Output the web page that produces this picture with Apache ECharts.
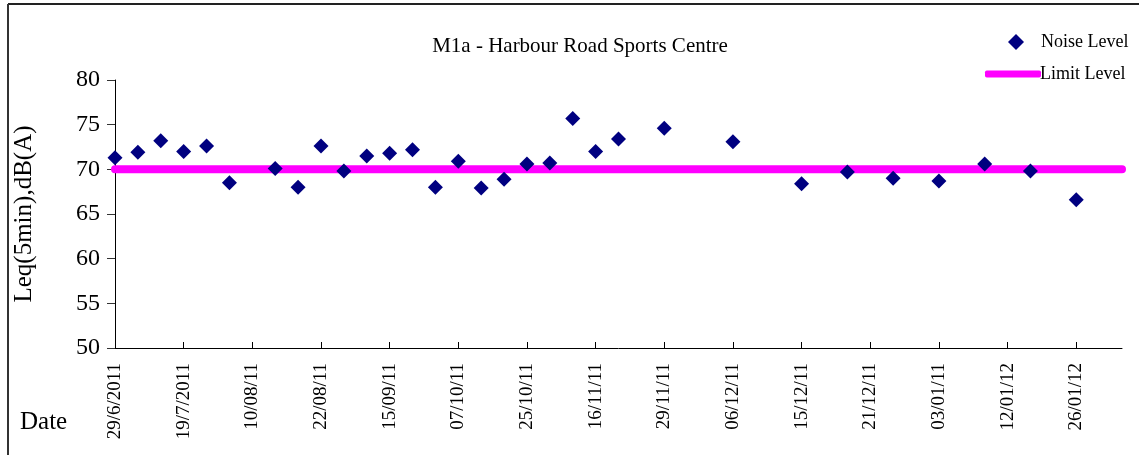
<!DOCTYPE html>
<html>
<head>
<meta charset="utf-8">
<style>
  html, body { margin: 0; padding: 0; background: #fff; }
  #chart { width: 1139px; height: 455px; }
</style>
<script src="https://cdn.jsdelivr.net/npm/echarts@6/dist/echarts.min.js"></script>
</head>
<body>
<div id="chart"></div>
<script>
// tick labels, one per every 3rd category on the axis
var tickLabels = ['29/6/2011', '19/7/2011', '10/08/11', '22/08/11', '15/09/11', '07/10/11',
  '25/10/11', '16/11/11', '29/11/11', '06/12/11', '15/12/11', '21/12/11',
  '03/01/11', '12/01/12', '26/01/12'];

// noise level per category slot (null = no measurement)
var noiseLevel = [
  71.3, 71.9, 73.2, 72.0, 72.6, 68.5, null, 70.1, 68.0, 72.6,
  69.8, 71.5, 71.8, 72.2, 68.0, 70.9, 67.9, 68.9, 70.6, 70.7,
  75.7, 72.0, 73.4, null, 74.6, null, null, 73.1, null, null,
  68.4, null, 69.7, null, 69.0, null, 68.7, null, 70.6, null,
  69.8, null, 66.6, null, null
];

var limitLevel = 70;

var categories = noiseLevel.map(function (_, i) {
  return i % 3 === 0 ? (tickLabels[i / 3] || '') : '';
});
var limitData = categories.map(function () { return limitLevel; });

var serif = '"Liberation Serif", "Times New Roman", serif';

var chart = echarts.init(document.getElementById('chart'), null, { renderer: 'canvas' });
chart.setOption({
  animation: false,
  backgroundColor: '#fff',
  title: {
    text: 'M1a - Harbour Road Sports Centre',
    left: 575,
    top: 31,
    textAlign: 'center',
    textStyle: { fontFamily: serif, fontSize: 21, fontWeight: 'normal', color: '#000' }
  },
  legend: [{
    data: [{ name: 'Noise Level', icon: 'diamond' }],
    left: 1003,
    top: 28,
    itemWidth: 16,
    itemHeight: 16,
    itemGap: 0,
    textStyle: { fontFamily: serif, fontSize: 18, color: '#000', padding: [0, 0, 0, 12] }
  }, {
    data: [{ name: 'Limit Level', icon: 'roundRect' }],
    left: 980,
    top: 60,
    itemWidth: 56,
    itemHeight: 7,
    textStyle: { fontFamily: serif, fontSize: 18, color: '#000', padding: [0, 0, 0, -6] }
  }],
  grid: { left: 115, right: 17, top: 80, bottom: 107 },
  xAxis: {
    type: 'category',
    data: categories,
    boundaryGap: false,
    axisLine: { lineStyle: { color: '#000', width: 1 } },
    axisTick: { inside: true, length: 6, interval: 2, lineStyle: { color: '#000' } },
    axisLabel: {
      interval: 2,
      rotate: 90,
      margin: 15,
      fontFamily: serif,
      fontSize: 19,
      color: '#000'
    },
    splitLine: { show: false }
  },
  yAxis: {
    type: 'value',
    min: 50,
    max: 80,
    interval: 5,
    name: 'Leq(5min),dB(A)',
    nameLocation: 'middle',
    nameGap: 78,
    nameTextStyle: { fontFamily: serif, fontSize: 25, color: '#000' },
    axisLine: { show: true, lineStyle: { color: '#000', width: 1 } },
    axisTick: { show: true, length: 8, lineStyle: { color: '#333' } },
    axisLabel: { fontFamily: serif, fontSize: 24, color: '#000', margin: 15 },
    splitLine: { show: false }
  },
  series: [{
    name: 'Limit Level',
    type: 'line',
    data: limitData,
    symbol: 'none',
    lineStyle: { color: '#ff00ff', width: 8, cap: 'round' },
    itemStyle: { color: '#ff00ff' },
    z: 1
  }, {
    name: 'Noise Level',
    type: 'scatter',
    data: noiseLevel,
    symbol: 'diamond',
    symbolSize: 15,
    itemStyle: { color: '#000080', opacity: 1 },
    z: 3
  }],
  graphic: [{
    type: 'line',
    shape: { x1: 8, y1: 4, x2: 1139, y2: 4 },
    style: { stroke: '#222', lineWidth: 2 }
  }, {
    type: 'line',
    shape: { x1: 8, y1: 4, x2: 8, y2: 455 },
    style: { stroke: '#333', lineWidth: 2 }
  }, {
    type: 'text',
    left: 20,
    top: 410,
    style: { text: 'Date', fontFamily: serif, fontSize: 25, fill: '#000' }
  }]
});
</script>
</body>
</html>
